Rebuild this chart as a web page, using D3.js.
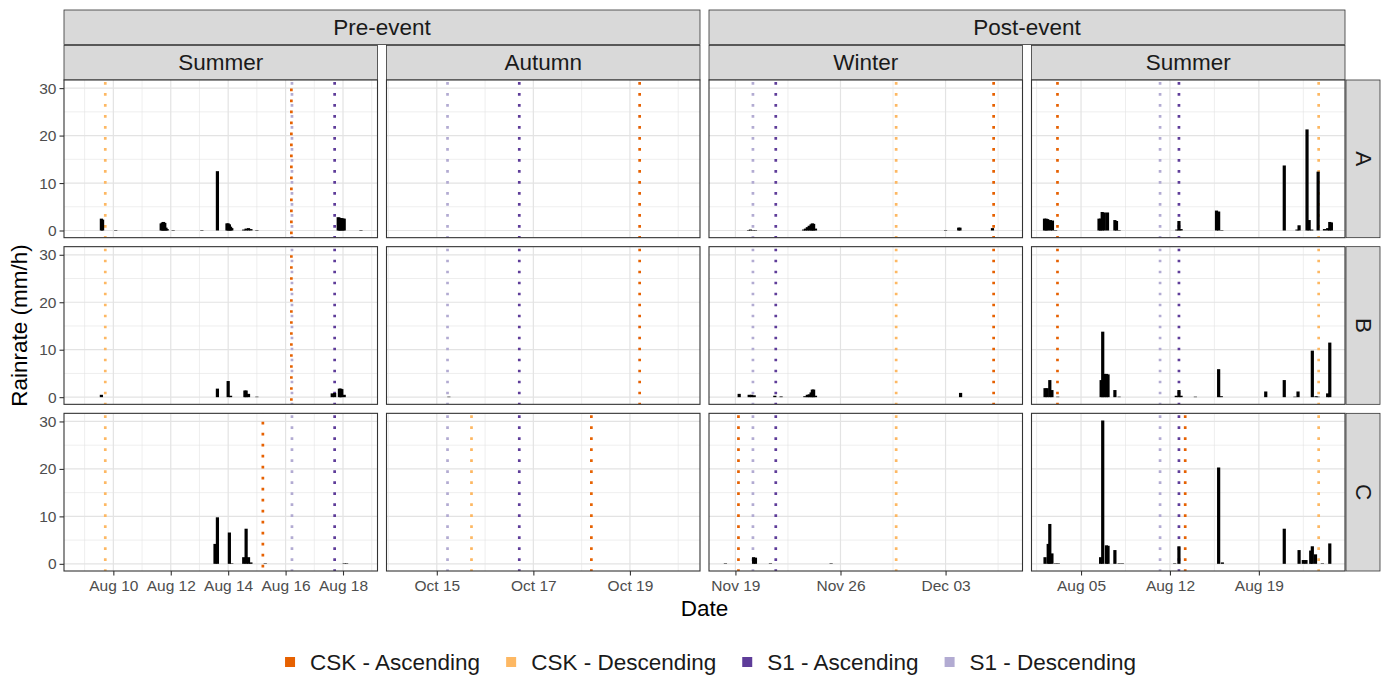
<!DOCTYPE html>
<html>
<head>
<meta charset="utf-8">
<script src="https://cdn.jsdelivr.net/npm/d3@7"></script>
<style>
  body { margin: 0; background: #fff; }
  text { font-family: "Liberation Sans", Arial, Helvetica, sans-serif; }
</style>
</head>
<body>
<svg id="chart" width="1391" height="678"></svg>
<script>
// ---- facets ----
const sites = ["A", "B", "C"];
const periods = ["Pre-event", "Post-event"];
const seasons = ["Summer", "Autumn", "Winter", "Summer"];
const seasonPeriod = [0, 0, 1, 1];

// ---- x axis (free per season column) ----
const xDomains = [
  ["2019-08-08 06:45", "2019-08-19 04:50"],
  ["2019-10-13 23:00", "2019-10-20 10:50"],
  ["2019-11-17 05:45", "2019-12-08 03:00"],
  ["2020-08-01 02:25", "2020-08-25 18:45"]
];
const majorTicks = [
  ["2019-08-10 00:00", "2019-08-12 00:00", "2019-08-14 00:00", "2019-08-16 00:00", "2019-08-18 00:00"],
  ["2019-10-15 00:00", "2019-10-17 00:00", "2019-10-19 00:00"],
  ["2019-11-19 00:00", "2019-11-26 00:00", "2019-12-03 00:00"],
  ["2020-08-05 00:00", "2020-08-12 00:00", "2020-08-19 00:00"]
];
const minorTicks = [
  ["2019-08-09 00:00", "2019-08-11 00:00", "2019-08-13 00:00", "2019-08-15 00:00", "2019-08-17 00:00", "2019-08-19 00:00"],
  ["2019-10-14 00:00", "2019-10-16 00:00", "2019-10-18 00:00", "2019-10-20 00:00"],
  ["2019-11-22 12:00", "2019-11-29 12:00", "2019-12-06 12:00"],
  ["2020-08-01 12:00", "2020-08-08 12:00", "2020-08-15 12:00", "2020-08-22 12:00"]
];

// ---- y axis ----
const yTicks = [0, 10, 20, 30];
const yMinor = [5, 15, 25];

// ---- satellite acquisitions ----
const acquisitionTypes = ["CSK - Ascending", "CSK - Descending", "S1 - Ascending", "S1 - Descending"];
const acquisitionColors = ["#E66101", "#FDB863", "#5E3C99", "#B2ABD2"];

const acqPreSummer = [
  ["A", "CSK - Descending", "2019-08-09 17:15"], ["A", "S1 - Descending", "2019-08-16 05:20"],
  ["A", "CSK - Ascending", "2019-08-16 04:50"], ["A", "S1 - Ascending", "2019-08-17 17:00"],
  ["B", "CSK - Descending", "2019-08-09 17:15"], ["B", "S1 - Descending", "2019-08-16 05:20"],
  ["B", "CSK - Ascending", "2019-08-16 04:50"], ["B", "S1 - Ascending", "2019-08-17 17:00"],
  ["C", "CSK - Descending", "2019-08-09 17:15"], ["C", "CSK - Ascending", "2019-08-15 05:00"],
  ["C", "S1 - Descending", "2019-08-16 05:20"], ["C", "S1 - Ascending", "2019-08-17 17:00"]
];
const acqAutumn = [
  ["A", "S1 - Descending", "2019-10-15 05:20"], ["A", "S1 - Ascending", "2019-10-16 17:00"],
  ["A", "CSK - Ascending", "2019-10-19 04:50"],
  ["B", "S1 - Descending", "2019-10-15 05:20"], ["B", "S1 - Ascending", "2019-10-16 17:00"],
  ["B", "CSK - Ascending", "2019-10-19 04:50"],
  ["C", "S1 - Descending", "2019-10-15 05:20"], ["C", "CSK - Descending", "2019-10-15 17:15"],
  ["C", "S1 - Ascending", "2019-10-16 17:00"], ["C", "CSK - Ascending", "2019-10-18 04:50"]
];
const acqWinter = [
  ["A", "S1 - Descending", "2019-11-20 04:00"], ["A", "S1 - Ascending", "2019-11-21 16:30"],
  ["A", "CSK - Descending", "2019-11-29 17:00"], ["A", "CSK - Ascending", "2019-12-06 04:50"],
  ["B", "S1 - Descending", "2019-11-20 04:00"], ["B", "S1 - Ascending", "2019-11-21 16:30"],
  ["B", "CSK - Descending", "2019-11-29 17:00"], ["B", "CSK - Ascending", "2019-12-06 04:50"],
  ["C", "CSK - Ascending", "2019-11-19 04:50"], ["C", "S1 - Descending", "2019-11-20 04:00"],
  ["C", "S1 - Ascending", "2019-11-21 16:30"], ["C", "CSK - Descending", "2019-11-29 17:00"]
];
const acqPostSummer = [
  ["A", "CSK - Ascending", "2020-08-03 03:30"], ["A", "S1 - Descending", "2020-08-11 05:20"],
  ["A", "S1 - Ascending", "2020-08-12 17:00"], ["A", "CSK - Descending", "2020-08-23 17:00"],
  ["B", "CSK - Ascending", "2020-08-03 03:30"], ["B", "S1 - Descending", "2020-08-11 05:20"],
  ["B", "S1 - Ascending", "2020-08-12 17:00"], ["B", "CSK - Descending", "2020-08-23 17:00"],
  ["C", "S1 - Descending", "2020-08-11 05:20"], ["C", "S1 - Ascending", "2020-08-12 17:00"],
  ["C", "CSK - Ascending", "2020-08-13 04:50"], ["C", "CSK - Descending", "2020-08-23 17:00"]
];

// ---- rain rate (mm/h) ----
const rainPreSummer = [
  ["A", "2019-08-09 14:00", 2.5], ["A", "2019-08-09 15:00", 2.3], ["A", "2019-08-10 02:00", 0.1],
  ["A", "2019-08-11 16:00", 1.5], ["A", "2019-08-11 17:00", 1.7], ["A", "2019-08-11 18:00", 1.8],
  ["A", "2019-08-11 19:00", 1.6], ["A", "2019-08-11 20:00", 0.6], ["A", "2019-08-11 21:00", 0.3],
  ["A", "2019-08-12 02:00", 0.1], ["A", "2019-08-13 02:00", 0.1], ["A", "2019-08-13 15:00", 12.5],
  ["A", "2019-08-13 23:00", 1.5], ["A", "2019-08-14 00:00", 1.5], ["A", "2019-08-14 01:00", 1.3],
  ["A", "2019-08-14 02:00", 0.8], ["A", "2019-08-14 03:00", 0.5],
  ["A", "2019-08-14 13:00", 0.2], ["A", "2019-08-14 15:00", 0.4], ["A", "2019-08-14 17:00", 0.5],
  ["A", "2019-08-14 19:00", 0.3], ["A", "2019-08-15 00:00", 0.1],
  ["A", "2019-08-17 20:00", 2.8], ["A", "2019-08-17 21:00", 2.7], ["A", "2019-08-17 22:00", 2.6],
  ["A", "2019-08-17 23:00", 2.6], ["A", "2019-08-18 00:00", 2.5], ["A", "2019-08-18 01:00", 2.5],
  ["A", "2019-08-18 15:00", 0.1],
  ["B", "2019-08-09 14:00", 0.5], ["B", "2019-08-13 15:00", 1.8], ["B", "2019-08-14 00:00", 3.4],
  ["B", "2019-08-14 02:00", 0.3], ["B", "2019-08-14 14:00", 1.4], ["B", "2019-08-14 15:00", 1.4],
  ["B", "2019-08-14 17:00", 0.7], ["B", "2019-08-15 00:00", 0.1], ["B", "2019-08-17 15:00", 0.8],
  ["B", "2019-08-17 17:00", 0.9], ["B", "2019-08-17 21:00", 1.8], ["B", "2019-08-17 22:00", 1.8],
  ["B", "2019-08-17 23:00", 1.7], ["B", "2019-08-18 01:00", 0.5],
  ["C", "2019-08-13 13:00", 4.2], ["C", "2019-08-13 15:00", 9.8], ["C", "2019-08-14 01:00", 6.6],
  ["C", "2019-08-14 03:00", 0.1], ["C", "2019-08-14 13:00", 1.4], ["C", "2019-08-14 15:00", 7.4],
  ["C", "2019-08-14 17:00", 1.4], ["C", "2019-08-14 19:00", 0.3], ["C", "2019-08-15 07:00", 0.1],
  ["C", "2019-08-18 01:00", 0.1], ["C", "2019-08-18 03:00", 0.1]
];
const rainAutumn = [
  ["B", "2019-10-15 06:00", 0.1]
];
const rainWinter = [
  ["A", "2019-11-19 21:00", 0.1], ["A", "2019-11-20 00:00", 0.2], ["A", "2019-11-20 04:00", 0.1],
  ["A", "2019-11-20 08:00", 0.1], ["A", "2019-11-23 13:00", 0.2], ["A", "2019-11-23 16:00", 0.4],
  ["A", "2019-11-23 19:00", 0.7], ["A", "2019-11-23 22:00", 1.0], ["A", "2019-11-24 01:00", 1.3],
  ["A", "2019-11-24 03:00", 1.5], ["A", "2019-11-24 05:00", 1.4], ["A", "2019-11-24 08:00", 0.4],
  ["A", "2019-12-03 00:00", 0.1], ["A", "2019-12-03 21:00", 0.6], ["A", "2019-12-03 23:00", 0.6],
  ["A", "2019-12-06 03:00", 0.5],
  ["B", "2019-11-19 06:00", 0.7], ["B", "2019-11-19 22:00", 0.5], ["B", "2019-11-20 02:00", 0.5],
  ["B", "2019-11-20 06:00", 0.4], ["B", "2019-11-21 15:00", 0.3], ["B", "2019-11-22 01:00", 0.15],
  ["B", "2019-11-23 15:00", 0.2], ["B", "2019-11-23 19:00", 0.5], ["B", "2019-11-23 22:00", 0.6],
  ["B", "2019-11-24 01:00", 1.0], ["B", "2019-11-24 03:00", 1.6], ["B", "2019-11-24 05:00", 1.6],
  ["B", "2019-11-24 08:00", 0.3], ["B", "2019-12-04 00:00", 0.9],
  ["C", "2019-11-18 08:00", 0.1], ["C", "2019-11-20 05:00", 1.4], ["C", "2019-11-20 08:00", 1.3],
  ["C", "2019-11-21 08:00", 0.1], ["C", "2019-11-25 09:00", 0.1]
];
const rainPostSummer = [
  ["A", "2020-08-02 03:00", 2.5], ["A", "2020-08-02 06:00", 2.5], ["A", "2020-08-02 09:00", 2.4],
  ["A", "2020-08-02 14:00", 2.2], ["A", "2020-08-02 18:00", 2.1], ["A", "2020-08-03 00:00", 0.1],
  ["A", "2020-08-06 10:00", 2.5], ["A", "2020-08-06 13:00", 2.5], ["A", "2020-08-06 16:00", 3.9],
  ["A", "2020-08-06 20:00", 3.8], ["A", "2020-08-07 02:00", 3.8], ["A", "2020-08-07 16:00", 2.2],
  ["A", "2020-08-07 19:00", 2.0], ["A", "2020-08-08 00:00", 0.1], ["A", "2020-08-12 13:00", 0.2],
  ["A", "2020-08-12 17:00", 2.0], ["A", "2020-08-12 21:00", 0.3], ["A", "2020-08-15 16:00", 4.2],
  ["A", "2020-08-15 20:00", 4.0], ["A", "2020-08-16 02:00", 0.1], ["A", "2020-08-21 00:00", 13.7],
  ["A", "2020-08-22 00:00", 0.2], ["A", "2020-08-22 04:00", 1.1], ["A", "2020-08-22 19:00", 21.3],
  ["A", "2020-08-22 23:00", 2.2], ["A", "2020-08-23 04:00", 0.2], ["A", "2020-08-23 16:00", 12.4],
  ["A", "2020-08-24 04:00", 0.3], ["A", "2020-08-24 10:00", 0.5], ["A", "2020-08-24 14:00", 1.8],
  ["A", "2020-08-24 17:00", 1.7],
  ["B", "2020-08-02 04:00", 1.9], ["B", "2020-08-02 08:00", 1.9], ["B", "2020-08-02 13:00", 3.6],
  ["B", "2020-08-02 17:00", 1.5], ["B", "2020-08-03 04:00", 0.1], ["B", "2020-08-06 14:00", 3.6],
  ["B", "2020-08-06 17:00", 13.8], ["B", "2020-08-06 20:00", 4.9], ["B", "2020-08-07 00:00", 4.9],
  ["B", "2020-08-07 03:00", 4.8], ["B", "2020-08-07 16:00", 1.5], ["B", "2020-08-08 00:00", 0.1],
  ["B", "2020-08-12 12:00", 0.3], ["B", "2020-08-12 17:00", 1.5], ["B", "2020-08-12 21:00", 0.3],
  ["B", "2020-08-14 00:00", 0.1], ["B", "2020-08-15 20:00", 5.9], ["B", "2020-08-16 01:00", 0.2],
  ["B", "2020-08-19 13:00", 1.2], ["B", "2020-08-21 00:00", 3.6], ["B", "2020-08-21 20:00", 0.1],
  ["B", "2020-08-22 02:00", 1.2], ["B", "2020-08-23 05:00", 9.8], ["B", "2020-08-23 12:00", 0.2],
  ["B", "2020-08-23 16:00", 0.1], ["B", "2020-08-24 10:00", 0.8], ["B", "2020-08-24 14:00", 11.5],
  ["C", "2020-08-02 04:00", 1.4], ["C", "2020-08-02 10:00", 4.2], ["C", "2020-08-02 13:00", 8.4],
  ["C", "2020-08-02 17:00", 2.2], ["C", "2020-08-03 00:00", 0.1], ["C", "2020-08-03 05:00", 0.1],
  ["C", "2020-08-06 13:00", 1.4], ["C", "2020-08-06 17:00", 30.2], ["C", "2020-08-07 00:00", 3.9],
  ["C", "2020-08-07 03:00", 3.8], ["C", "2020-08-07 16:00", 2.9], ["C", "2020-08-08 00:00", 0.1],
  ["C", "2020-08-08 06:00", 0.1], ["C", "2020-08-12 09:00", 0.1], ["C", "2020-08-12 17:00", 3.7],
  ["C", "2020-08-15 20:00", 20.3], ["C", "2020-08-16 03:00", 0.3], ["C", "2020-08-21 00:00", 7.4],
  ["C", "2020-08-22 04:00", 2.9], ["C", "2020-08-22 12:00", 0.8], ["C", "2020-08-22 17:00", 0.8],
  ["C", "2020-08-23 02:00", 2.8], ["C", "2020-08-23 05:00", 3.7], ["C", "2020-08-23 11:00", 2.0],
  ["C", "2020-08-24 00:00", 0.1], ["C", "2020-08-24 14:00", 4.3]
];

const rainByColumn = [rainPreSummer, rainAutumn, rainWinter, rainPostSummer];
const acqByColumn = [acqPreSummer, acqAutumn, acqWinter, acqPostSummer];

// ---- layout ----
const W = 1391, H = 678;
const plotLeft = 64, plotRight = 1345, plotTop = 80, plotBottom = 571;
const hGap = 9, vGap = 9;
const colW = (plotRight - plotLeft - hGap * (seasons.length - 1)) / seasons.length;
const rowH = (plotBottom - plotTop - vGap * (sites.length - 1)) / sites.length;
const stripH = 34.5;
const rightStripW = 34;
const stripFont = 22.5, titleFont = 22.5, tickFont = 15.5, legendFont = 22.5;

const parseTime = d3.utcParse("%Y-%m-%d %H:%M");
const fmt = d3.utcFormat("%b %d");
const gridColor = "#E3E3E3";
const frameColor = "#333333";

const svg = d3.select("#chart");
svg.append("rect").attr("width", W).attr("height", H).attr("fill", "#fff");

const colX = i => plotLeft + i * (colW + hGap);
const rowY = j => plotTop + j * (rowH + vGap);

const xScales = xDomains.map((dom, i) =>
  d3.scaleUtc().domain(dom.map(parseTime)).range([colX(i), colX(i) + colW]));

const yMax = d3.max(rainByColumn.flat(), d => d[2]);
const yDomain = [-0.05 * yMax, yMax * 1.05];
const yScales = sites.map((s, j) =>
  d3.scaleLinear().domain(yDomain).range([rowY(j) + rowH, rowY(j)]));

const colorOf = d3.scaleOrdinal().domain(acquisitionTypes).range(acquisitionColors);

// ---- strips on top ----
const periodCols = periods.map((p, k) => seasonPeriod.map((v, i) => v === k ? i : -1).filter(i => i >= 0));
periodCols.forEach((cols, k) => {
  const x0 = colX(cols[0]), x1 = colX(cols[cols.length - 1]) + colW;
  const g = svg.append("g");
  g.append("rect").attr("x", x0).attr("y", plotTop - 2 * stripH - 1)
    .attr("width", x1 - x0).attr("height", stripH)
    .attr("fill", "#D9D9D9").attr("stroke", frameColor).attr("stroke-width", 0.8);
  g.append("text").attr("x", (x0 + x1) / 2).attr("y", plotTop - 2 * stripH - 1 + stripH / 2)
    .attr("text-anchor", "middle").attr("dominant-baseline", "central")
    .attr("font-size", stripFont).attr("fill", "#1A1A1A").text(periods[k]);
});
seasons.forEach((s, i) => {
  const g = svg.append("g");
  g.append("rect").attr("x", colX(i)).attr("y", plotTop - stripH)
    .attr("width", colW).attr("height", stripH)
    .attr("fill", "#D9D9D9").attr("stroke", frameColor).attr("stroke-width", 0.8);
  g.append("text").attr("x", colX(i) + colW / 2).attr("y", plotTop - stripH / 2)
    .attr("text-anchor", "middle").attr("dominant-baseline", "central")
    .attr("font-size", stripFont).attr("fill", "#1A1A1A").text(s);
});

// ---- strips on the right ----
sites.forEach((s, j) => {
  const x0 = plotRight + 1, y0 = rowY(j);
  svg.append("rect").attr("x", x0).attr("y", y0).attr("width", rightStripW).attr("height", rowH)
    .attr("fill", "#D9D9D9").attr("stroke", frameColor).attr("stroke-width", 0.8);
  svg.append("text")
    .attr("transform", `translate(${x0 + rightStripW / 2},${y0 + rowH / 2}) rotate(90)`)
    .attr("text-anchor", "middle").attr("dominant-baseline", "central")
    .attr("font-size", stripFont).attr("fill", "#1A1A1A").text(s);
});

// ---- panels ----
const defs = svg.append("defs");
sites.forEach((site, j) => {
  seasons.forEach((season, i) => {
    const x = xScales[i], y = yScales[j];
    const px = colX(i), py = rowY(j);
    const clipId = `clip-${j}-${i}`;
    defs.append("clipPath").attr("id", clipId)
      .append("rect").attr("x", px).attr("y", py).attr("width", colW).attr("height", rowH);

    const g = svg.append("g");
    g.append("rect").attr("x", px).attr("y", py).attr("width", colW).attr("height", rowH).attr("fill", "#fff");

    const grid = g.append("g").attr("clip-path", `url(#${clipId})`);
    // minor grid
    grid.selectAll(".ymin").data(yMinor).join("line")
      .attr("x1", px).attr("x2", px + colW).attr("y1", d => y(d)).attr("y2", d => y(d))
      .attr("stroke", gridColor).attr("stroke-width", 0.6);
    grid.selectAll(".xmin").data(minorTicks[i].map(parseTime)).join("line")
      .attr("x1", d => x(d)).attr("x2", d => x(d)).attr("y1", py).attr("y2", py + rowH)
      .attr("stroke", gridColor).attr("stroke-width", 0.6);
    // major grid
    grid.selectAll(".ymaj").data(yTicks).join("line")
      .attr("x1", px).attr("x2", px + colW).attr("y1", d => y(d)).attr("y2", d => y(d))
      .attr("stroke", gridColor).attr("stroke-width", 1.2);
    grid.selectAll(".xmaj").data(majorTicks[i].map(parseTime)).join("line")
      .attr("x1", d => x(d)).attr("x2", d => x(d)).attr("y1", py).attr("y2", py + rowH)
      .attr("stroke", gridColor).attr("stroke-width", 1.2);

    const marks = g.append("g").attr("clip-path", `url(#${clipId})`);
    // acquisition dates
    const acq = acqByColumn[i].filter(d => d[0] === site);
    marks.selectAll(".acq").data(acq).join("line")
      .attr("x1", d => x(parseTime(d[2]))).attr("x2", d => x(parseTime(d[2])))
      .attr("y1", py).attr("y2", py + rowH)
      .attr("stroke", d => colorOf(d[1])).attr("stroke-width", 2.7)
      .attr("stroke-dasharray", "2.7 8.3")
      .attr("stroke-dashoffset", d => d[1] === "CSK - Ascending" && i === 0 ? 2.5 : -2);

    // rain rate bars
    const rain = rainByColumn[i].filter(d => d[0] === site);
    const barW = 3.2;
    marks.selectAll(".bar").data(rain).join("rect")
      .attr("x", d => x(parseTime(d[1])) - barW / 2).attr("width", barW)
      .attr("y", d => y(d[2])).attr("height", d => y(0) - y(d[2]))
      .attr("fill", "#000");

    // frame
    g.append("rect").attr("x", px).attr("y", py).attr("width", colW).attr("height", rowH)
      .attr("fill", "none").attr("stroke", frameColor).attr("stroke-width", 1.1);

    // y axis on first column
    if (i === 0) {
      const ay = g.append("g").attr("transform", `translate(${px},0)`)
        .call(d3.axisLeft(y).tickValues(yTicks).tickSize(4.5).tickPadding(3));
      ay.select(".domain").remove();
      ay.selectAll("line").attr("stroke", frameColor).attr("stroke-width", 1.1);
      ay.selectAll("text").attr("font-size", tickFont).attr("fill", "#4D4D4D")
        .attr("font-family", "Liberation Sans, Arial, sans-serif");
    }
    // x axis on last row
    if (j === sites.length - 1) {
      const ax = g.append("g").attr("transform", `translate(0,${py + rowH})`)
        .call(d3.axisBottom(x).tickValues(majorTicks[i].map(parseTime)).tickFormat(fmt)
          .tickSize(4.5).tickPadding(4));
      ax.select(".domain").remove();
      ax.selectAll("line").attr("stroke", frameColor).attr("stroke-width", 1.1);
      ax.selectAll("text").attr("font-size", tickFont).attr("fill", "#4D4D4D")
        .attr("font-family", "Liberation Sans, Arial, sans-serif");
    }
  });
});

// ---- axis titles ----
svg.append("text").attr("x", (plotLeft + plotRight) / 2).attr("y", 616)
  .attr("text-anchor", "middle").attr("font-size", titleFont).attr("fill", "#000").text("Date");
svg.append("text")
  .attr("transform", `translate(27,${(plotTop + plotBottom) / 2}) rotate(-90)`)
  .attr("text-anchor", "middle").attr("font-size", titleFont).attr("fill", "#000").text("Rainrate (mm/h)");

// ---- legend ----
const legend = svg.append("g");
const keySize = 10, keyGap = 15, itemGap = 26, legendY = 662;
let cursor = 0;
acquisitionTypes.forEach(t => {
  const g = legend.append("g");
  g.append("rect").attr("x", 0).attr("y", -keySize / 2).attr("width", keySize).attr("height", keySize)
    .attr("fill", colorOf(t));
  const txt = g.append("text").attr("x", keySize + keyGap).attr("y", 0)
    .attr("dominant-baseline", "central").attr("font-size", legendFont).attr("fill", "#1A1A1A").text(t);
  const w = keySize + keyGap + txt.node().getComputedTextLength();
  g.attr("transform", `translate(${cursor},0)`);
  cursor += w + itemGap;
});
const legendW = cursor - itemGap;
legend.attr("transform", `translate(${(plotLeft + plotRight) / 2 + 6 - legendW / 2},${legendY})`);
</script>
</body>
</html>
